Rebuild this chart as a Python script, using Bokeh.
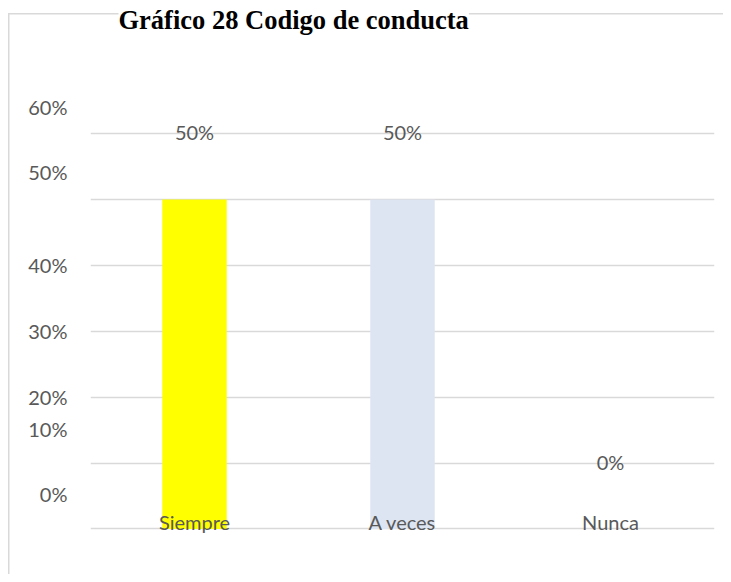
from bokeh.plotting import figure
from bokeh.models import FixedTicker, Range1d, Label, ColumnDataSource
from bokeh.core.properties import value
from bokeh.embed import file_html
from bokeh.resources import INLINE

# ---- data ----
categories = ["Siempre", "A veces", "Nunca"]
percentages = [0.50, 0.50, 0.0]
pct_labels = ["50%", "50%", "0%"]
bar_colors = ["#ffff00", "#dee5f2", "#dee5f2"]
tick_labels = ["0%", "10%", "20%", "30%", "40%", "50%", "60%"]
grid_values = [0.0, 0.1, 0.2, 0.3, 0.4, 0.5, 0.6]
title_text = "Gráfico 28 Codigo de conducta"

# ---- layout / style (tick label positions as they appear in the original) ----
tick_label_pos = [0.053, 0.152, 0.2, 0.3, 0.4, 0.541, 0.64]
FONT = "Lato"
TXT = "#595959"
GRID = "#d9d9d9"

p = figure(width=723, height=574, x_range=categories,
           y_range=Range1d(-0.06, 0.802),
           output_backend="svg", toolbar_location=None,
           min_border_left=90, min_border_right=9,
           min_border_top=0, min_border_bottom=6)
p.title = None
p.outline_line_color = None
p.background_fill_color = None
p.border_fill_color = None

# light border of the chart area (left and top edges), drawn behind the canvas
p.styles = {
    "background-color": "white",
    "background-image": "linear-gradient(#d9d9d9, #d9d9d9), linear-gradient(#d9d9d9, #d9d9d9)",
    "background-size": "1.5px 100%, 100% 1.5px",
    "background-position": "8px 13px, 8px 13px",
    "background-repeat": "no-repeat",
}

title = Label(text=title_text, x=28, y=549, x_units="screen", y_units="screen",
              text_font="Liberation Serif", text_font_style="bold",
              text_font_size="26.5px", text_color="black",
              text_baseline="alphabetic", text_align="left",
              background_fill_color="white")
p.add_layout(title)

src = ColumnDataSource(dict(cat=categories, val=percentages,
                            lab=pct_labels, color=bar_colors,
                            zero=[0.0] * len(categories)))

p.vbar(x="cat", top="val", bottom=0, width=0.31, color="color",
       line_color=None, source=src)

p.text(x="cat", y="val", text="lab", source=src,
       text_align="center", text_baseline="middle", y_offset=-67,
       text_font=value(FONT), text_font_size="20px", text_color=TXT)

p.text(x="cat", y="zero", text="cat", source=src,
       text_align="center", text_baseline="middle", y_offset=-7,
       text_font=value(FONT), text_font_size="20px", text_color=TXT)

p.xaxis.visible = False
p.xgrid.visible = False
p.ygrid.ticker = FixedTicker(ticks=grid_values)
p.ygrid.grid_line_color = GRID
p.ygrid.grid_line_width = 1.5

ya = p.yaxis[0]
ya.ticker = FixedTicker(ticks=tick_label_pos)
ya.major_label_overrides = {v: s for v, s in zip(tick_label_pos, tick_labels)}
ya.axis_line_color = None
ya.major_tick_line_color = None
ya.minor_tick_line_color = None
ya.major_label_standoff = 17
ya.major_label_text_font = FONT
ya.major_label_text_font_size = "20px"
ya.major_label_text_color = TXT

open("out.html", "w").write(file_html(p, INLINE))
